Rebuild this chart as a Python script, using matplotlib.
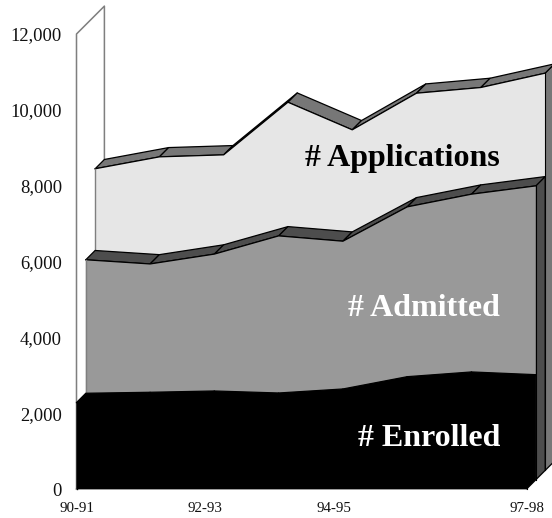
import matplotlib
matplotlib.use("Agg")
import matplotlib.pyplot as plt
import numpy as np

plt.rcParams['font.family'] = ['Liberation Serif', 'DejaVu Serif']

W, H = 552, 518
positions = list(range(8))
xtick_pos = [0, 2, 4, 7]
xtick_labels = ['90-91', '92-93', '94-95', '97-98']
yticks = [0, 2000, 4000, 6000, 8000, 10000, 12000]
ytick_labels = ['0', '2,000', '4,000', '6,000', '8,000', '10,000', '12,000']

enrolled = [2280, 2306, 2340, 2287, 2393, 2717, 2842, 2770]
admitted = [5800, 5690, 5950, 6430, 6290, 7195, 7530, 7749]
applications = [7955, 8269, 8322, 9710, 8982, 9948, 10098, 10476]

# axes placement: x 0..7 -> 76.5..526.5 px, y 0..12000 -> 489..34 px
L, R, B, T = 76.5, 526.5, 489.0, 34.0
fig = plt.figure(figsize=(W / 100, H / 100), dpi=100, facecolor='white')
ax = fig.add_axes([L / W, 1 - B / H, (R - L) / W, (B - T) / H])
ax.set_xlim(0, 7)
ax.set_ylim(0, 12000)
for s in ax.spines.values():
    s.set_visible(False)
ax.patch.set_visible(False)

dx = 9.3 / ((R - L) / 7)          # one depth step, category units
dy = 9.3 / ((B - T) / 12000)      # one depth step, value units
x = np.array(positions, dtype=float)
GREY = '#7f7f7f'


def layer(vals, level, face, top, side, outline, edge):
    v = np.array(vals, dtype=float)
    xf, yf = x + level * dx, v + level * dy
    xb, yb = xf + dx, yf + dy
    base_f, base_b = level * dy, (level + 1) * dy
    # right side wall
    ax.fill([xf[-1], xb[-1], xb[-1], xf[-1]], [yf[-1], yb[-1], base_b, base_f],
            facecolor=side, edgecolor=outline, lw=0.8, clip_on=False, zorder=2 + level * -0.1)
    # top surface segments
    for i in range(7):
        ax.fill([xf[i], xf[i + 1], xb[i + 1], xb[i]], [yf[i], yf[i + 1], yb[i + 1], yb[i]],
                facecolor=top, edgecolor=outline, lw=0.9, joinstyle='round',
                clip_on=False, zorder=2 + level * -0.1)
    # front face
    ax.fill(np.r_[xf, xf[-1], xf[0]], np.r_[yf, base_f, base_f],
            facecolor=face, edgecolor='none', clip_on=False, zorder=2.05 + level * -0.1)
    ax.plot(xf, yf, color=outline, lw=0.9, clip_on=False, zorder=2.06 + level * -0.1)
    ax.plot([xf[0], xf[0]], [base_f, yf[0]], color=edge, lw=1.0, clip_on=False,
            zorder=2.06 + level * -0.1)
    ax.plot([xf[-1], xf[-1]], [base_f, yf[-1]], color=outline, lw=0.8, clip_on=False,
            zorder=2.06 + level * -0.1)


# left wall and floor lines
ax.plot([0, 0, 3 * dx, 3 * dx], [0, 12000, 12000 + 3 * dy, applications[0] + 3 * dy],
        color=GREY, lw=1.1, clip_on=False, zorder=1)
ax.plot([0, 7, 7 + 3 * dx], [0, 0, 3 * dy], color=GREY, lw=1.1, clip_on=False, zorder=1)

layer(applications, 2, '#e6e6e6', '#777777', '#777777', 'black', GREY)
layer(admitted, 1, '#999999', '#4d4d4d', '#4d4d4d', 'black', GREY)
layer(enrolled, 0, 'black', 'black', 'black', 'black', 'black')

ax.set_xticks(xtick_pos, xtick_labels, fontsize=10.8, color='#111111')
ax.set_yticks(yticks, ytick_labels, fontsize=13.3, color='#111111')
ax.tick_params(axis='x', length=0, pad=9)
ax.tick_params(axis='y', length=0, pad=10.4)

ax.text(5.065, 8720, '# Applications', fontsize=23, fontweight='bold', color='black',
        ha='center', va='center', zorder=5)
ax.text(5.41, 4770, '# Admitted', fontsize=23, fontweight='bold', color='white',
        ha='center', va='center', zorder=5)
ax.text(5.48, 1320, '# Enrolled', fontsize=23, fontweight='bold', color='white',
        ha='center', va='center', zorder=5)

fig.savefig('out.png', dpi=100, facecolor='white')
